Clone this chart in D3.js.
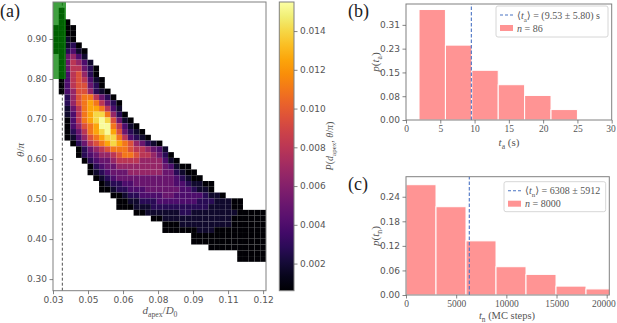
<!DOCTYPE html>
<html><head><meta charset="utf-8">
<script src="https://cdn.jsdelivr.net/npm/d3@7"></script>
<style>body{margin:0;background:#fff}</style>
</head><body>
<svg id="c" width="617" height="323" xmlns="http://www.w3.org/2000/svg"></svg>
<script>
// ---------------- data ----------------
const dTickValues = [0.03, 0.045, 0.06, 0.075, 0.09, 0.105, 0.12];
const dTickLabels = ["0.03", "0.05", "0.06", "0.08", "0.09", "0.11", "0.12"];
const thetaTickValues = [0.3, 0.4, 0.5, 0.6, 0.7, 0.8, 0.9];
const thetaTickLabels = ["0.30", "0.40", "0.50", "0.60", "0.70", "0.80", "0.90"];
const cbarTickValues = [0.002, 0.004, 0.006, 0.008, 0.010, 0.012, 0.014];
const cbarTickLabels = ["0.002", "0.004", "0.006", "0.008", "0.010", "0.012", "0.014"];
const cbarMin = 0.0006, cbarMax = 0.0155;

// 2D histogram bins (d_apex/D0 columns, theta/pi rows from the top)
const dBinStart = 0.03, dBinWidth = 0.002466;
const thetaBinTop = 0.9925, thetaBinHeight = 0.01443;
// level code (hex digit) -> probability value
const levelValues = [0.0007, 0.0018, 0.0028, 0.004, 0.005, 0.0066, 0.008, 0.0095, 0.011, 0.0125, 0.014, 0.0153];
// [row, first column, levels]
const heatRows = [
  [1, 1, "0"],
  [2, 1, "0"],
  [3, 1, "00"],
  [4, 0, "0000"],
  [5, 0, "0000"],
  [6, 0, "0010"],
  [7, 0, "00120"],
  [8, 0, "002310"],
  [9, 1, "04531"],
  [10, 1, "046531"],
  [11, 1, "0466420"],
  [12, 1, "0367520"],
  [13, 1, "03676310"],
  [14, 1, "03677420"],
  [15, 1, "035775210"],
  [16, 2, "257886420"],
  [17, 2, "2578986420"],
  [18, 2, "1468998631"],
  [19, 2, "13689AA8520"],
  [20, 2, "03689ABA7410"],
  [21, 2, "035789BB86310"],
  [22, 2, "024689AB974210"],
  [23, 2, "0135789AA863210"],
  [24, 3, "0246789A98754210"],
  [25, 4, "0245678887665431"],
  [26, 4, "02345567887665420"],
  [27, 5, "02344566665555310"],
  [28, 6, "023445555555543100"],
  [29, 6, "0123444555555442100"],
  [30, 7, "0123444444444432100"],
  [31, 8, "01223344444443321100"],
  [32, 8, "00122333444444332110"],
  [33, 10, "00122333344333332110"],
  [34, 11, "0011222333333322211100"],
  [35, 11, "0001112222222222111100"],
  [36, 14, "00111111221111111100000"],
  [37, 17, "00111111111111000000"],
  [38, 19, "000111111111000000"],
  [39, 19, "000000111000000000"],
  [40, 24, "0000000000000"],
  [41, 24, "0000000000000"],
  [42, 27, "0000000000"],
  [43, 32, "00000"],
  [44, 32, "00000"]
];
const greenRegion = {d0: 0.03, d1: 0.03557, t0: 0.80, t1: 0.9925};
const dCut = 0.034;

// panel (b)
const taEdges = [1.9, 5.75, 9.6, 13.45, 17.3, 21.15, 25.0];
const taProb = [0.360, 0.244, 0.162, 0.115, 0.080, 0.034];
const taMean = 9.53;
const taXTicks = [0, 5, 10, 15, 20, 25, 30];
const taYTicks = [0, 0.0775, 0.155, 0.2325, 0.31];
const taYLabels = ["0.00", "0.08", "0.15", "0.23", "0.31"];

// panel (c)
const tnEdges = [0, 2990, 5980, 8970, 11960, 14950, 17940, 20930];
const tnProb = [0.273, 0.2185, 0.134, 0.070, 0.051, 0.022, 0.015];
const tnMean = 6308;
const tnXTicks = [0, 5000, 10000, 15000, 20000];
const tnYTicks = [0, 0.0608, 0.1216, 0.1824, 0.2432];
const tnYLabels = ["0.00", "0.06", "0.12", "0.18", "0.24"];

// ---------------- drawing ----------------
const svg = d3.select("#c");
const SANS = "DejaVu Sans, sans-serif";
const SERIF = "Liberation Serif, DejaVu Serif, serif";
const TXT = "#555";
const SPINE = "#808080";
const BAR = "#ff9494";
const MEANC = "#4a74c4";

function mathText(g, parts, x, y, opts = {}) {
  const size = opts.size || 11;
  const t = g.append("text").attr("x", x).attr("y", y)
    .attr("font-family", SERIF).attr("font-size", size)
    .attr("fill", opts.fill || TXT).attr("text-anchor", opts.anchor || "middle");
  if (opts.rotate) t.attr("transform", `rotate(${opts.rotate},${x},${y})`);
  let shifted = 0;
  parts.forEach(p => {
    const s = t.append("tspan").text(p.t);
    if (p.i) s.attr("font-style", "italic");
    if (p.sub) {
      s.attr("font-size", size * 0.7);
      if (!shifted) { s.attr("dy", size * 0.3); shifted = 1; }
    } else if (shifted) {
      s.attr("dy", -size * 0.3); shifted = 0;
    }
  });
  return t;
}

function styleAxis(g, font, size) {
  g.select(".domain").remove();
  g.selectAll(".tick line").attr("stroke", "#666").attr("stroke-width", 0.8);
  g.selectAll(".tick text").attr("fill", TXT).attr("font-family", font).attr("font-size", size);
}

// ----- panel (a) -----
const xA = d3.scaleLinear().domain([0.03, 0.12124]).range([53, 266]);
const yA = d3.scaleLinear().domain([0.271, 0.9925]).range([290.7, 2]);
const color = d3.scaleSequential(d3.interpolateInferno).domain([cbarMin, cbarMax]);

const cells = [];
heatRows.forEach(([r, c0, lev]) => {
  for (let i = 0; i < lev.length; i++) {
    const c = c0 + i;
    const v = levelValues[parseInt(lev[i], 16)];
    const d0 = dBinStart + c * dBinWidth;
    const t1 = thetaBinTop - r * thetaBinHeight;
    cells.push({d0, d1: d0 + dBinWidth, t0: t1 - thetaBinHeight, t1, v});
  }
});
const gA = svg.append("g");
gA.selectAll("rect.cell").data(cells).join("rect").attr("class", "cell")
  .attr("x", d => xA(d.d0)).attr("y", d => yA(d.t1))
  .attr("width", d => xA(d.d1) - xA(d.d0)).attr("height", d => yA(d.t0) - yA(d.t1))
  .attr("fill", d => color(d.v))
  .attr("stroke", "rgba(255,255,255,0.04)").attr("stroke-width", 0.3);

gA.append("line").attr("x1", xA(dCut)).attr("x2", xA(dCut))
  .attr("y1", yA(0.271)).attr("y2", yA(0.9925))
  .attr("stroke", "#222").attr("stroke-width", 0.8).attr("stroke-dasharray", "3,2");

gA.append("rect").attr("x", xA(greenRegion.d0)).attr("y", yA(greenRegion.t1))
  .attr("width", xA(greenRegion.d1) - xA(greenRegion.d0))
  .attr("height", yA(greenRegion.t0) - yA(greenRegion.t1))
  .attr("fill", "green").attr("fill-opacity", 0.75);

gA.append("rect").attr("x", 53).attr("y", 2).attr("width", 213).attr("height", 288.7)
  .attr("fill", "none").attr("stroke", SPINE).attr("stroke-width", 1);

const axAx = gA.append("g").attr("transform", "translate(0,290.7)")
  .call(d3.axisBottom(xA).tickValues(dTickValues).tickFormat((d, i) => dTickLabels[i]).tickSize(3.5).tickPadding(2.5));
styleAxis(axAx, SANS, 9);
const axAy = gA.append("g").attr("transform", "translate(53,0)")
  .call(d3.axisLeft(yA).tickValues(thetaTickValues).tickFormat((d, i) => thetaTickLabels[i]).tickSize(3.5).tickPadding(2.5));
styleAxis(axAy, SANS, 9);

mathText(svg, [{t: "(a)"}], 0, 17, {size: 18, anchor: "start", fill: "#222"});
mathText(svg, [{t: "d", i: 1}, {t: "apex", sub: 1}, {t: "/"}, {t: "D", i: 1}, {t: "0", sub: 1}], 160, 314, {size: 11});
mathText(svg, [{t: "θ", i: 1}, {t: "/"}, {t: "π", i: 1}], 24, 150, {size: 11, rotate: -90});

// colorbar
const cbX = 279.3, cbW = 14.7;
const yCb = d3.scaleLinear().domain([cbarMin, cbarMax]).range([290.7, 2]);
const defs = svg.append("defs");
const grad = defs.append("linearGradient").attr("id", "cbg").attr("x1", 0).attr("x2", 0).attr("y1", 1).attr("y2", 0);
d3.range(0, 1.0001, 0.05).forEach(t => grad.append("stop").attr("offset", t).attr("stop-color", d3.interpolateInferno(t)));
svg.append("rect").attr("x", cbX).attr("y", 2).attr("width", cbW).attr("height", 288.7)
  .attr("fill", "url(#cbg)").attr("stroke", SPINE).attr("stroke-width", 1);
const axCb = svg.append("g").attr("transform", `translate(${cbX + cbW},0)`)
  .call(d3.axisRight(yCb).tickValues(cbarTickValues).tickFormat((d, i) => cbarTickLabels[i]).tickSize(3.5).tickPadding(2.5));
styleAxis(axCb, SANS, 9);
mathText(svg, [{t: "P", i: 1}, {t: "("}, {t: "d", i: 1}, {t: "apex", sub: 1}, {t: ", "}, {t: "θ", i: 1}, {t: "/"}, {t: "π", i: 1}, {t: ")"}], 333, 146, {size: 10, rotate: -90});

// ----- histogram panels -----
function histPanel(cfg) {
  const g = svg.append("g");
  const x = d3.scaleLinear().domain(cfg.xDom).range([cfg.left, cfg.right]);
  const y = d3.scaleLinear().domain(cfg.yDom).range([cfg.bottom, cfg.top]);
  const clipId = "clip" + cfg.id;
  defs.append("clipPath").attr("id", clipId).append("rect")
    .attr("x", cfg.left).attr("y", cfg.top).attr("width", cfg.right - cfg.left).attr("height", cfg.bottom - cfg.top);
  const bars = cfg.probs.map((p, i) => ({x0: cfg.edges[i], x1: cfg.edges[i + 1], p}));
  g.append("g").attr("clip-path", `url(#${clipId})`).selectAll("rect").data(bars).join("rect")
    .attr("x", d => x(d.x0)).attr("width", d => x(d.x1) - x(d.x0))
    .attr("y", d => y(d.p)).attr("height", d => y(0) - y(d.p))
    .attr("fill", BAR).attr("stroke", "#fff").attr("stroke-width", 1);
  g.append("line").attr("x1", x(cfg.mean)).attr("x2", x(cfg.mean)).attr("y1", cfg.bottom).attr("y2", cfg.top)
    .attr("stroke", MEANC).attr("stroke-width", 1.1).attr("stroke-dasharray", "3.5,2");
  g.append("rect").attr("x", cfg.left).attr("y", cfg.top).attr("width", cfg.right - cfg.left).attr("height", cfg.bottom - cfg.top)
    .attr("fill", "none").attr("stroke", SPINE).attr("stroke-width", 1);
  const ax = g.append("g").attr("transform", `translate(0,${cfg.bottom})`)
    .call(d3.axisBottom(x).tickValues(cfg.xTicks).tickFormat(d3.format("d")).tickSize(3.5).tickPadding(2));
  styleAxis(ax, SERIF, 9.5);
  // keep a label that sits at the right edge inside the page
  ax.selectAll(".tick text").each(function () {
    const bb = this.getBBox();
    const tx = +d3.select(this.parentNode).attr("transform").match(/translate\(([^,]+)/)[1];
    const over = tx + bb.x + bb.width - 616;
    if (over > 0) d3.select(this).attr("dx", -over);
  });
  const ay = g.append("g").attr("transform", `translate(${cfg.left},0)`)
    .call(d3.axisLeft(y).tickValues(cfg.yTicks).tickFormat((d, i) => cfg.yLabels[i]).tickSize(3.5).tickPadding(2.5));
  styleAxis(ay, SANS, 9);
  // legend
  const L = cfg.legend;
  g.append("rect").attr("x", L.x).attr("y", L.y).attr("width", L.w).attr("height", L.h).attr("rx", 2)
    .attr("fill", "#fff").attr("fill-opacity", 0.85).attr("stroke", "#ccc").attr("stroke-width", 0.8);
  g.append("line").attr("x1", L.x + 4).attr("x2", L.x + 17).attr("y1", L.y + 9).attr("y2", L.y + 9)
    .attr("stroke", MEANC).attr("stroke-width", 1.1).attr("stroke-dasharray", "3,2");
  g.append("rect").attr("x", L.x + 4).attr("y", L.y + 19).attr("width", 13).attr("height", 6).attr("fill", BAR);
  mathText(g, L.line1, L.x + 21, L.y + 12.5, {size: 10, anchor: "start"});
  mathText(g, L.line2, L.x + 21, L.y + 25.5, {size: 10, anchor: "start"});
  return g;
}

histPanel({
  id: "b", left: 406, right: 611.7, top: 4, bottom: 120,
  xDom: [0, 30], yDom: [0, 0.378],
  edges: taEdges, probs: taProb, mean: taMean,
  xTicks: taXTicks, yTicks: taYTicks, yLabels: taYLabels,
  legend: {x: 496, y: 6, w: 112, h: 31,
    line1: [{t: "⟨"}, {t: "t", i: 1}, {t: "a", sub: 1}, {t: "⟩ = (9.53 ± 5.80) s"}],
    line2: [{t: "n", i: 1}, {t: " = 86"}]}
});
histPanel({
  id: "c", left: 406, right: 609.3, top: 176.7, bottom: 295,
  xDom: [0, 20260], yDom: [0, 0.2928],
  edges: tnEdges, probs: tnProb, mean: tnMean,
  xTicks: tnXTicks, yTicks: tnYTicks, yLabels: tnYLabels,
  legend: {x: 504, y: 181.7, w: 101.7, h: 30,
    line1: [{t: "⟨"}, {t: "t", i: 1}, {t: "n", sub: 1}, {t: "⟩ = 6308 ± 5912"}],
    line2: [{t: "n", i: 1}, {t: " = 8000"}]}
});

mathText(svg, [{t: "(b)"}], 348, 17, {size: 18, anchor: "start", fill: "#222"});
mathText(svg, [{t: "(c)"}], 348, 190, {size: 18, anchor: "start", fill: "#222"});
mathText(svg, [{t: "t", i: 1}, {t: "a", sub: 1}, {t: " (s)"}], 509, 146, {size: 11});
mathText(svg, [{t: "t", i: 1}, {t: "n", sub: 1}, {t: " (MC steps)"}], 507, 318.5, {size: 10.5});
mathText(svg, [{t: "p", i: 1}, {t: "("}, {t: "t", i: 1}, {t: "a", sub: 1}, {t: ")"}], 379, 62, {size: 11, rotate: -90});
mathText(svg, [{t: "p", i: 1}, {t: "("}, {t: "t", i: 1}, {t: "n", sub: 1}, {t: ")"}], 379, 236, {size: 11, rotate: -90});
</script>
</body></html>
